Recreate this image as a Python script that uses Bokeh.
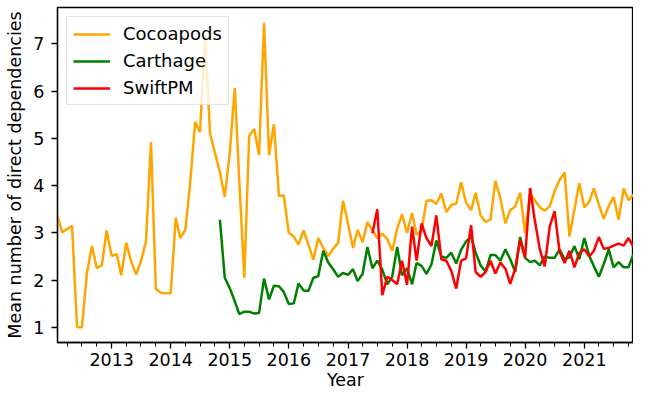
import pandas as pd
from bokeh.plotting import figure
from bokeh.models import FixedTicker, DatetimeTickFormatter, Range1d
from bokeh.embed import file_html
from bokeh.resources import INLINE

# ---- data (monthly means) ----
cocoapods_start = "2012-02-01"
cocoapods = [3.35, 3.01, 3.08, 3.15, 1.00, 1.00, 2.15, 2.72, 2.25, 2.31,
             3.05, 2.51, 2.55, 2.10, 2.79, 2.40, 2.12, 2.40, 2.82, 4.92,
             1.81, 1.73, 1.72, 1.72, 3.32, 2.89, 3.06, 4.05, 5.35, 5.13,
             7.17, 5.11, 4.70, 4.29, 3.76, 4.70, 6.07, 4.09, 2.05, 5.05,
             5.20, 4.65, 7.45, 4.65, 5.30, 3.78, 3.79, 3.00, 2.92, 2.75,
             3.05, 2.75, 2.43, 2.89, 2.68, 2.51, 2.66, 2.79, 3.68, 3.20,
             2.68, 3.06, 2.80, 3.23, 3.05, 2.89, 2.98, 2.87, 2.62, 3.09,
             3.39, 3.00, 3.42, 2.96, 3.05, 3.68, 3.69, 3.61, 3.83, 3.44,
             3.59, 3.62, 4.07, 3.64, 3.48, 3.85, 3.37, 3.23, 3.28, 4.10,
             3.73, 3.20, 3.48, 3.56, 3.85, 2.99, 3.83, 3.69, 3.54, 3.47,
             3.56, 3.88, 4.12, 4.28, 2.92, 3.50, 4.05, 3.54, 3.66, 3.94,
             3.59, 3.30, 3.57, 3.76, 3.28, 3.94, 3.69, 3.81]

carthage_start = "2014-11-01"
carthage = [3.28, 2.05, 1.83, 1.55, 1.28, 1.33, 1.33, 1.29, 1.30, 2.03,
            1.59, 1.88, 1.87, 1.75, 1.49, 1.51, 1.93, 1.78, 1.77, 2.05,
            2.08, 2.62, 2.37, 2.23, 2.07, 2.15, 2.11, 2.23, 1.98, 2.13,
            2.70, 2.25, 2.41, 2.22, 1.91, 2.07, 2.70, 2.10, 2.25, 1.91,
            2.36, 2.30, 2.13, 2.33, 2.84, 2.50, 2.47, 2.58, 2.35, 2.64,
            2.82, 2.92, 2.58, 2.31, 2.18, 2.53, 2.53, 2.41, 2.65, 2.44,
            2.17, 2.91, 2.47, 2.38, 2.41, 2.31, 2.50, 2.47, 2.47, 2.65,
            2.44, 2.48, 2.72, 2.44, 2.89, 2.51, 2.29, 2.07, 2.34, 2.65,
            2.27, 2.38, 2.27, 2.27, 2.55]

swiftpm_start = "2017-06-01"
swiftpm = [2.99, 3.50, 1.68, 2.07, 2.00, 1.91, 2.41, 1.90, 3.13, 2.41,
           3.20, 2.89, 2.72, 3.37, 2.44, 2.41, 2.20, 1.82, 2.41, 2.46,
           3.16, 2.17, 2.07, 2.17, 2.41, 2.14, 2.37, 2.24, 1.92, 2.24,
           2.85, 2.48, 3.95, 3.26, 2.65, 2.29, 3.13, 3.46, 2.60, 2.36,
           2.62, 2.27, 2.58, 2.65, 2.50, 2.62, 2.91, 2.66, 2.68, 2.73,
           2.77, 2.73, 2.89, 2.70]

series_names = ["Cocoapods", "Carthage", "SwiftPM"]
year_ticks = [2013, 2014, 2015, 2016, 2017, 2018, 2019, 2020, 2021]
y_ticks = [1, 2, 3, 4, 5, 6, 7]
x_title = "Year"
y_title = "Mean number of direct dependencies"

# ---- dates ----
c_dates = pd.date_range(cocoapods_start, periods=len(cocoapods), freq="MS")
k_dates = pd.date_range(carthage_start, periods=len(carthage), freq="MS")
s_dates = pd.date_range(swiftpm_start, periods=len(swiftpm), freq="MS")


def ms(ts):
    return pd.Timestamp(ts).value / 1e6


x0, x1 = ms(c_dates[0]), ms(c_dates[-1])
major = [ms(f"{y}-01-01") for y in year_ticks]
minor = [ms(d) for d in pd.date_range("2012-01-01", "2022-01-01", freq="QS")
         if x0 <= ms(d) <= x1]

ymin = min(cocoapods + carthage + swiftpm)
ymax = max(cocoapods + carthage + swiftpm)
pad = (ymax - ymin) * 0.05

FONT = "DejaVu Sans"

p = figure(width=633, height=394, output_backend="svg", toolbar_location=None,
           x_axis_type="datetime",
           x_range=Range1d(x0, x1), y_range=Range1d(ymin - pad, ymax + pad),
           min_border_left=57, min_border_right=0, min_border_top=7,
           min_border_bottom=52)

p.line(c_dates, cocoapods, color="orange", line_width=2.5, legend_label=series_names[0])
p.line(k_dates, carthage, color="green", line_width=2.5, legend_label=series_names[1])
p.line(s_dates, swiftpm, color="red", line_width=2.5, legend_label=series_names[2])

p.xgrid.grid_line_color = None
p.ygrid.grid_line_color = None
p.outline_line_color = "black"
p.outline_line_alpha = 1.0
p.outline_line_width = 1.3
p.background_fill_color = "white"
p.border_fill_color = "white"

p.xaxis.ticker = FixedTicker(ticks=major, minor_ticks=minor)
p.xaxis.formatter = DatetimeTickFormatter(years="%Y", months="%Y", days="%Y")
p.yaxis.ticker = FixedTicker(ticks=y_ticks)

for ax in (p.xaxis, p.yaxis):
    ax.axis_line_color = "black"
    ax.axis_line_width = 1.3
    ax.major_tick_line_color = "black"
    ax.major_tick_line_width = 1.3
    ax.major_tick_out = 6
    ax.major_tick_in = 0
    ax.minor_tick_line_color = "black"
    ax.minor_tick_line_width = 1.0
    ax.minor_tick_out = 4
    ax.minor_tick_in = 0
    ax.major_label_text_font = FONT
    ax.major_label_text_font_size = "17.5px"
    ax.major_label_text_color = "black"
    ax.axis_label_text_font = FONT
    ax.axis_label_text_font_size = "17.5px"
    ax.axis_label_text_font_style = "normal"
    ax.axis_label_text_color = "black"

p.yaxis.minor_tick_line_color = None
p.xaxis.axis_label = x_title
p.yaxis.axis_label = y_title
p.xaxis.major_label_standoff = 4
p.xaxis.axis_label_standoff = 1
p.yaxis.major_label_standoff = 7
p.yaxis.axis_label_standoff = 5

lg = p.legend[0]
lg.location = "top_left"
lg.margin = 9
lg.padding = 6
lg.spacing = 6
lg.label_height = 20
lg.glyph_height = 20
lg.glyph_width = 37
lg.label_standoff = 13
lg.label_text_font = FONT
lg.label_text_font_size = "18px"
lg.label_text_color = "black"
lg.border_line_color = "#cccccc"
lg.border_line_width = 1
lg.background_fill_alpha = 0.8

open("out.html", "w").write(file_html(p, INLINE))
